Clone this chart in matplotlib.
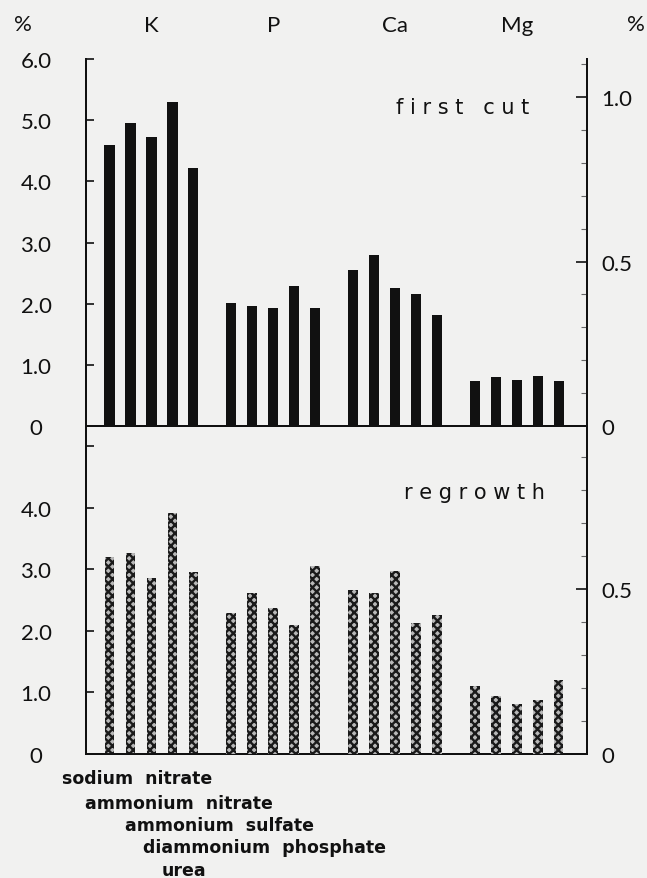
import matplotlib.pyplot as plt
from matplotlib.ticker import MultipleLocator
import numpy as np

elements = ["K", "P", "Ca", "Mg"]
sources = ["sodium nitrate", "ammonium nitrate", "ammonium sulfate",
           "diammonium phosphate", "urea"]

# first cut, % of dry matter (K on left scale, P/Ca/Mg on right scale)
first_K = [4.60, 4.95, 4.73, 5.30, 4.22]
first_P = [0.373, 0.364, 0.359, 0.425, 0.359]
first_Ca = [0.473, 0.520, 0.419, 0.400, 0.337]
first_Mg = [0.136, 0.149, 0.139, 0.151, 0.136]

# regrowth
regr_K = [3.20, 3.26, 2.86, 3.91, 2.96]
regr_P = [0.426, 0.487, 0.442, 0.392, 0.570]
regr_Ca = [0.497, 0.488, 0.554, 0.396, 0.421]
regr_Mg = [0.207, 0.175, 0.152, 0.164, 0.223]

bg = "#f1f1f0"
ink = "#111111"
plt.rcParams["hatch.linewidth"] = 1.7

fig = plt.figure(figsize=(6.47, 8.79), dpi=100)
fig.set_facecolor(bg)

W, H = 647, 879
x0, x1 = 86 / W, 587 / W
ax_top = fig.add_axes([x0, 1 - 427 / H, x1 - x0, (427 - 60) / H])
ax_bot = fig.add_axes([x0, 1 - 755 / H, x1 - x0, (755 - 427) / H])

gap = 5.8
xs = [g * gap + np.arange(5) for g in range(4)]
xlim = (-1.12, 3 * gap + 4 + 1.35)

num_font = dict(family="Lato", fontsize=16, color=ink)


def setup(ax, left_top, right_top, left_ticks, left_labels, right_labels):
    axr = ax.twinx()
    ax.set_xlim(*xlim)
    ax.set_ylim(0, left_top)
    axr.set_ylim(0, right_top)
    for a in (ax, axr):
        a.set_facecolor("none")
        a.spines["top"].set_visible(False)
        for s in a.spines.values():
            s.set_linewidth(1.4)
            s.set_color(ink)
        a.set_xticks([])
    ax.set_yticks(left_ticks)
    ax.set_yticklabels(left_labels)
    ax.tick_params(axis="y", direction="in", length=6, width=1.2, pad=36,
                   colors=ink)
    for t in ax.get_yticklabels():
        t.set_horizontalalignment("center")
        t.set_fontfamily("Lato")
        t.set_fontsize(16)
    axr.set_yticks([0, 0.5, 1.0] if right_top > 1 else [0, 0.5])
    axr.set_yticklabels(right_labels)
    axr.yaxis.set_minor_locator(MultipleLocator(0.1))
    axr.tick_params(axis="y", which="major", direction="in", length=8,
                    width=1.2, pad=10, colors=ink)
    axr.tick_params(axis="y", which="minor", direction="in", length=4,
                    width=0.8, colors="#666666")
    for t in axr.get_yticklabels():
        t.set_fontfamily("Lato")
        t.set_fontsize(16)
    return axr


axr_top = setup(ax_top, 6.0, 366 / 328, np.arange(0, 7),
                ["0", "1.0", "2.0", "3.0", "4.0", "5.0", "6.0"],
                ["0", "0.5", "1.0"])

axr_bot = setup(ax_bot, 5.33, 328 / 330, np.arange(0, 6),
                ["0", "1.0", "2.0", "3.0", "4.0", ""],
                ["0", "0.5"])

bw = 0.48
ax_top.bar(xs[0], first_K, width=bw, color=ink, zorder=3)
axr_top.bar(xs[1], first_P, width=bw, color=ink, zorder=3)
axr_top.bar(xs[2], first_Ca, width=bw, color=ink, zorder=3)
axr_top.bar(xs[3], first_Mg, width=bw, color=ink, zorder=3)

hatch_kw = dict(width=0.46, facecolor="#b8b8b8", edgecolor="#1a1a1a",
                hatch="xxxx", linewidth=0, zorder=3)
ax_bot.bar(xs[0], regr_K, **hatch_kw)
axr_bot.bar(xs[1], regr_P, **hatch_kw)
axr_bot.bar(xs[2], regr_Ca, **hatch_kw)
axr_bot.bar(xs[3], regr_Mg, **hatch_kw)

# element headers
for g, name in enumerate(elements):
    xd = g * gap + 2
    xf = fig.transFigure.inverted().transform(
        ax_top.transData.transform((xd, 0)))[0]
    fig.text(xf, 1 - 26 / H, name, ha="center", va="center", **num_font)

fig.text(23 / W, 1 - 25 / H, "%", ha="center", va="center", **num_font)
fig.text(636 / W, 1 - 25 / H, "%", ha="center", va="center", **num_font)

lab_font = dict(family="DejaVu Sans", fontsize=15, color=ink)
fig.text(463 / W, 1 - 108 / H, "f i r s t   c u t", ha="center",
         va="center", **lab_font)
fig.text(474 / W, 1 - 493 / H, "r e g r o w t h", ha="center",
         va="center", **lab_font)

src_x = [62, 85, 125, 143, 162]
src_y = [779, 804, 826, 848, 871]
for name, sx, sy in zip(sources, src_x, src_y):
    fig.text(sx / W, 1 - sy / H, name.replace(" ", "  "), ha="left",
             va="center", family="DejaVu Sans", fontsize=12.5,
             fontweight="bold", color=ink)

plt.savefig("out.png", dpi=100, facecolor=bg)
